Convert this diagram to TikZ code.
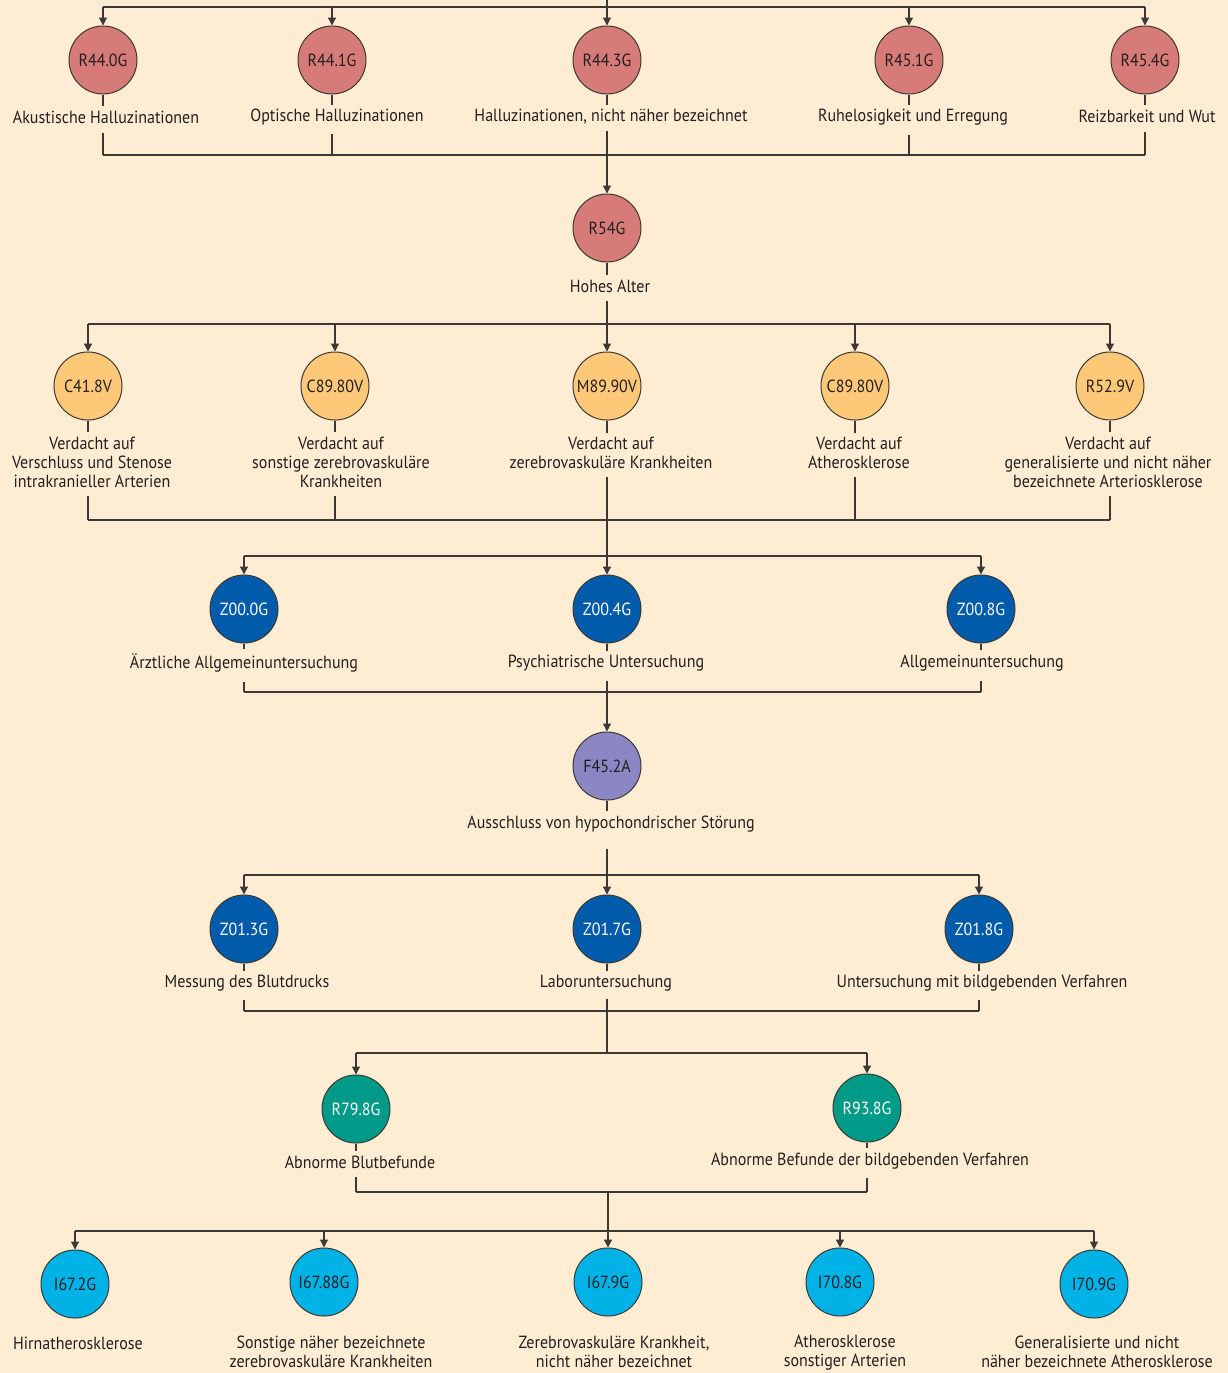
\documentclass[tikz,border=0pt]{standalone}
\usepackage{fontspec}
\setmainfont{PT Sans}[FakeStretch=0.91]
\usetikzlibrary{arrows.meta}
\definecolor{bg}{HTML}{FEEDD2}
\definecolor{cred}{HTML}{D67B78}
\definecolor{corange}{HTML}{FDC878}
\definecolor{cblue}{HTML}{005BAA}
\definecolor{cpurple}{HTML}{8A87C4}
\definecolor{cteal}{HTML}{009A88}
\definecolor{ccyan}{HTML}{00B2E5}
\definecolor{lncol}{HTML}{3C3835}
\definecolor{txt}{HTML}{231F20}
\tikzset{
  circ/.style={circle, draw=lncol, line width=0.5pt, minimum size=34pt, inner sep=0pt, text=txt},
  cr/.style={circ, fill=cred},
  co/.style={circ, fill=corange},
  cb/.style={circ, fill=cblue, text=white},
  cp/.style={circ, fill=cpurple},
  ct/.style={circ, fill=cteal, text=white},
  cc/.style={circ, fill=ccyan},
  lab/.style={align=center, inner sep=2pt, text=txt},
  ln/.style={draw=lncol, line width=0.6pt},
  arr/.style={ln, -{Triangle[width=4pt,length=4pt]}}
}
\begin{document}
\begin{tikzpicture}[x=0.5pt,y=-0.5pt,font=\fontsize{8.8}{9.5}\selectfont]
\fill[bg] (0,0) rectangle (1228,1373);
\useasboundingbox (0,0) rectangle (1228,1373);

% ---------- level 1
\coordinate (t0) at (607,0);
\coordinate (t1) at (607,7);
\node[cr] (r1) at (103,60) {R44.0G};
\node[cr] (r2) at (332,60) {R44.1G};
\node[cr] (r3) at (607,60) {R44.3G};
\node[cr] (r4) at (909,60) {R45.1G};
\node[cr] (r5) at (1145,60) {R45.4G};
\node[lab] (l1) at (106,117) {Akustische Halluzinationen};
\node[lab] (l2) at (337,117) {Optische Halluzinationen};
\node[lab] (l3) at (611,117) {Halluzinationen, nicht näher bezeichnet};
\node[lab] (l4) at (913,117) {Ruhelosigkeit und Erregung};
\node[lab] (l5) at (1147,116) {Reizbarkeit und Wut};
\draw[ln] (t0) -- (t1);
\draw[ln] (r1 |- t1) -- (r5 |- t1);
\coordinate (b2) at (607,155);
\draw[ln] (r1 |- b2) -- (r5 |- b2);
\foreach \i in {1,...,5}{
  \draw[arr] (r\i |- t1) -- (r\i);
  \draw[ln] (r\i.south) -- (r\i |- l\i.north);
}
\foreach \i in {1,2,4,5}{
  \draw[ln] ([yshift=-2.5pt]r\i |- l\i.south) -- (r\i |- b2);
}

% ---------- R54G
\node[cr] (h) at (607,228) {R54G};
\node[lab] (lh) at (610,286) {Hohes Alter};
\draw[arr] ([yshift=-1pt]r3 |- l3.south) -- (h);
\draw[ln] (h.south) -- (h |- lh.north);

% ---------- level 3
\coordinate (b3) at (607,324);
\node[co] (o1) at (88,386) {C41.8V};
\node[co] (o2) at (335,386) {C89.80V};
\node[co] (o3) at (607,386) {M89.90V};
\node[co] (o4) at (855,386) {C89.80V};
\node[co] (o5) at (1110,386) {R52.9V};
\node[lab] (lo1) at (92,462) {Verdacht auf\\Verschluss und Stenose\\intrakranieller Arterien};
\node[lab] (lo2) at (341,462) {Verdacht auf\\sonstige zerebrovaskuläre\\Krankheiten};
\node[lab] (lo3) at (611,453) {Verdacht auf\\zerebrovaskuläre Krankheiten};
\node[lab] (lo4) at (859,453) {Verdacht auf\\Atherosklerose};
\node[lab] (lo5) at (1108,462) {Verdacht auf\\generalisierte und nicht näher\\bezeichnete Arteriosklerose};
\draw[ln] ([yshift=-2pt]h |- lh.south) -- (h |- b3);
\draw[ln] (o1 |- b3) -- (o5 |- b3);
\coordinate (b4) at (607,520);
\draw[ln] (o1 |- b4) -- (o5 |- b4);
\foreach \i in {1,...,5}{
  \draw[arr] (o\i |- b3) -- (o\i);
  \draw[ln] (o\i.south) -- (o\i |- lo\i.north);
}
\foreach \i in {1,2,4,5}{
  \draw[ln] ([yshift=-2pt]o\i |- lo\i.south) -- (o\i |- b4);
}

% ---------- level 4
\coordinate (b5) at (607,556);
\node[cb] (z1) at (244,609) {Z00.0G};
\node[cb] (z2) at (607,609) {Z00.4G};
\node[cb] (z3) at (981,609) {Z00.8G};
\node[lab] (lz1) at (244,663) {Ärztliche Allgemeinuntersuchung};
\node[lab] (lz2) at (606,663) {Psychiatrische Untersuchung};
\node[lab] (lz3) at (982,663) {Allgemeinuntersuchung};
\draw[arr] ([yshift=-2pt]o3 |- lo3.south) -- (z2);
\draw[ln] (z1 |- b5) -- (z3 |- b5);
\coordinate (b6) at (607,692);
\draw[ln] (z1 |- b6) -- (z3 |- b6);
\foreach \i in {1,3}{
  \draw[arr] (z\i |- b5) -- (z\i);
  \draw[ln] ([yshift=-2.5pt]z\i |- lz\i.south) -- (z\i |- b6);
}
\foreach \i in {1,2,3}{
  \draw[ln] (z\i.south) -- (z\i |- lz\i.north);
}

% ---------- F45.2A
\node[cp] (f) at (607,766) {F45.2A};
\node[lab] (lf) at (611,824) {Ausschluss von hypochondrischer Störung};
\draw[arr] ([yshift=-2.5pt]z2 |- lz2.south) -- (f);
\draw[ln] (f.south) -- (f |- lf.north);

% ---------- level 5
\coordinate (b7) at (607,875);
\node[cb] (y1) at (244,929) {Z01.3G};
\node[cb] (y2) at (607,929) {Z01.7G};
\node[cb] (y3) at (979,929) {Z01.8G};
\node[lab] (ly1) at (247,983) {Messung des Blutdrucks};
\node[lab] (ly2) at (606,983) {Laboruntersuchung};
\node[lab] (ly3) at (982,983) {Untersuchung mit bildgebenden Verfahren};
\draw[arr] ([yshift=-6pt]f |- lf.south) -- (y2);
\draw[ln] (y1 |- b7) -- (y3 |- b7);
\coordinate (b8) at (607,1011);
\draw[ln] (y1 |- b8) -- (y3 |- b8);
\foreach \i in {1,3}{
  \draw[arr] (y\i |- b7) -- (y\i);
  \draw[ln] ([yshift=-2pt]y\i |- ly\i.south) -- (y\i |- b8);
}
\foreach \i in {1,2,3}{
  \draw[ln] (y\i.south) -- (y\i |- ly\i.north);
}

% ---------- level 6
\coordinate (b9) at (607,1053);
\node[ct] (a1) at (356,1109) {R79.8G};
\node[ct] (a2) at (867,1108) {R93.8G};
\node[lab] (la1) at (360,1162) {Abnorme Blutbefunde};
\node[lab] (la2) at (870,1161) {Abnorme Befunde der bildgebenden Verfahren};
\draw[ln] ([yshift=-2pt]y2 |- ly2.south) -- (b9);
\draw[ln] (a1 |- b9) -- (a2 |- b9);
\coordinate (b10) at (608,1192);
\draw[ln] (a1 |- b10) -- (a2 |- b10);
\foreach \i in {1,2}{
  \draw[arr] (a\i |- b9) -- (a\i);
  \draw[ln] (a\i.south) -- (a\i |- la\i.north);
  \draw[ln] ([yshift=-2pt]a\i |- la\i.south) -- (a\i |- b10);
}

% ---------- level 7
\coordinate (b11) at (608,1231);
\node[cc] (i1) at (75,1284) {I67.2G};
\node[cc] (i2) at (324,1282) {I67.88G};
\node[cc] (i3) at (608,1282) {I67.9G};
\node[cc] (i4) at (840,1282) {I70.8G};
\node[cc] (i5) at (1094,1284) {I70.9G};
\node[lab] (li1) at (78,1343) {Hirnatherosklerose};
\node[lab] (li2) at (331,1352) {Sonstige näher bezeichnete\\zerebrovaskuläre Krankheiten};
\node[lab] (li3) at (614,1352) {Zerebrovaskuläre Krankheit,\\nicht näher bezeichnet};
\node[lab] (li4) at (845,1353) {Atherosklerose\\sonstiger Arterien};
\node[lab] (li5) at (1097,1352) {Generalisierte und nicht\\näher bezeichnete Atherosklerose};
\draw[arr] (b10) -- (i3);
\draw[ln] (i1 |- b11) -- (i5 |- b11);
\foreach \i in {1,2,4,5}{
  \draw[arr] (i\i |- b11) -- (i\i);
}
\end{tikzpicture}
\end{document}
